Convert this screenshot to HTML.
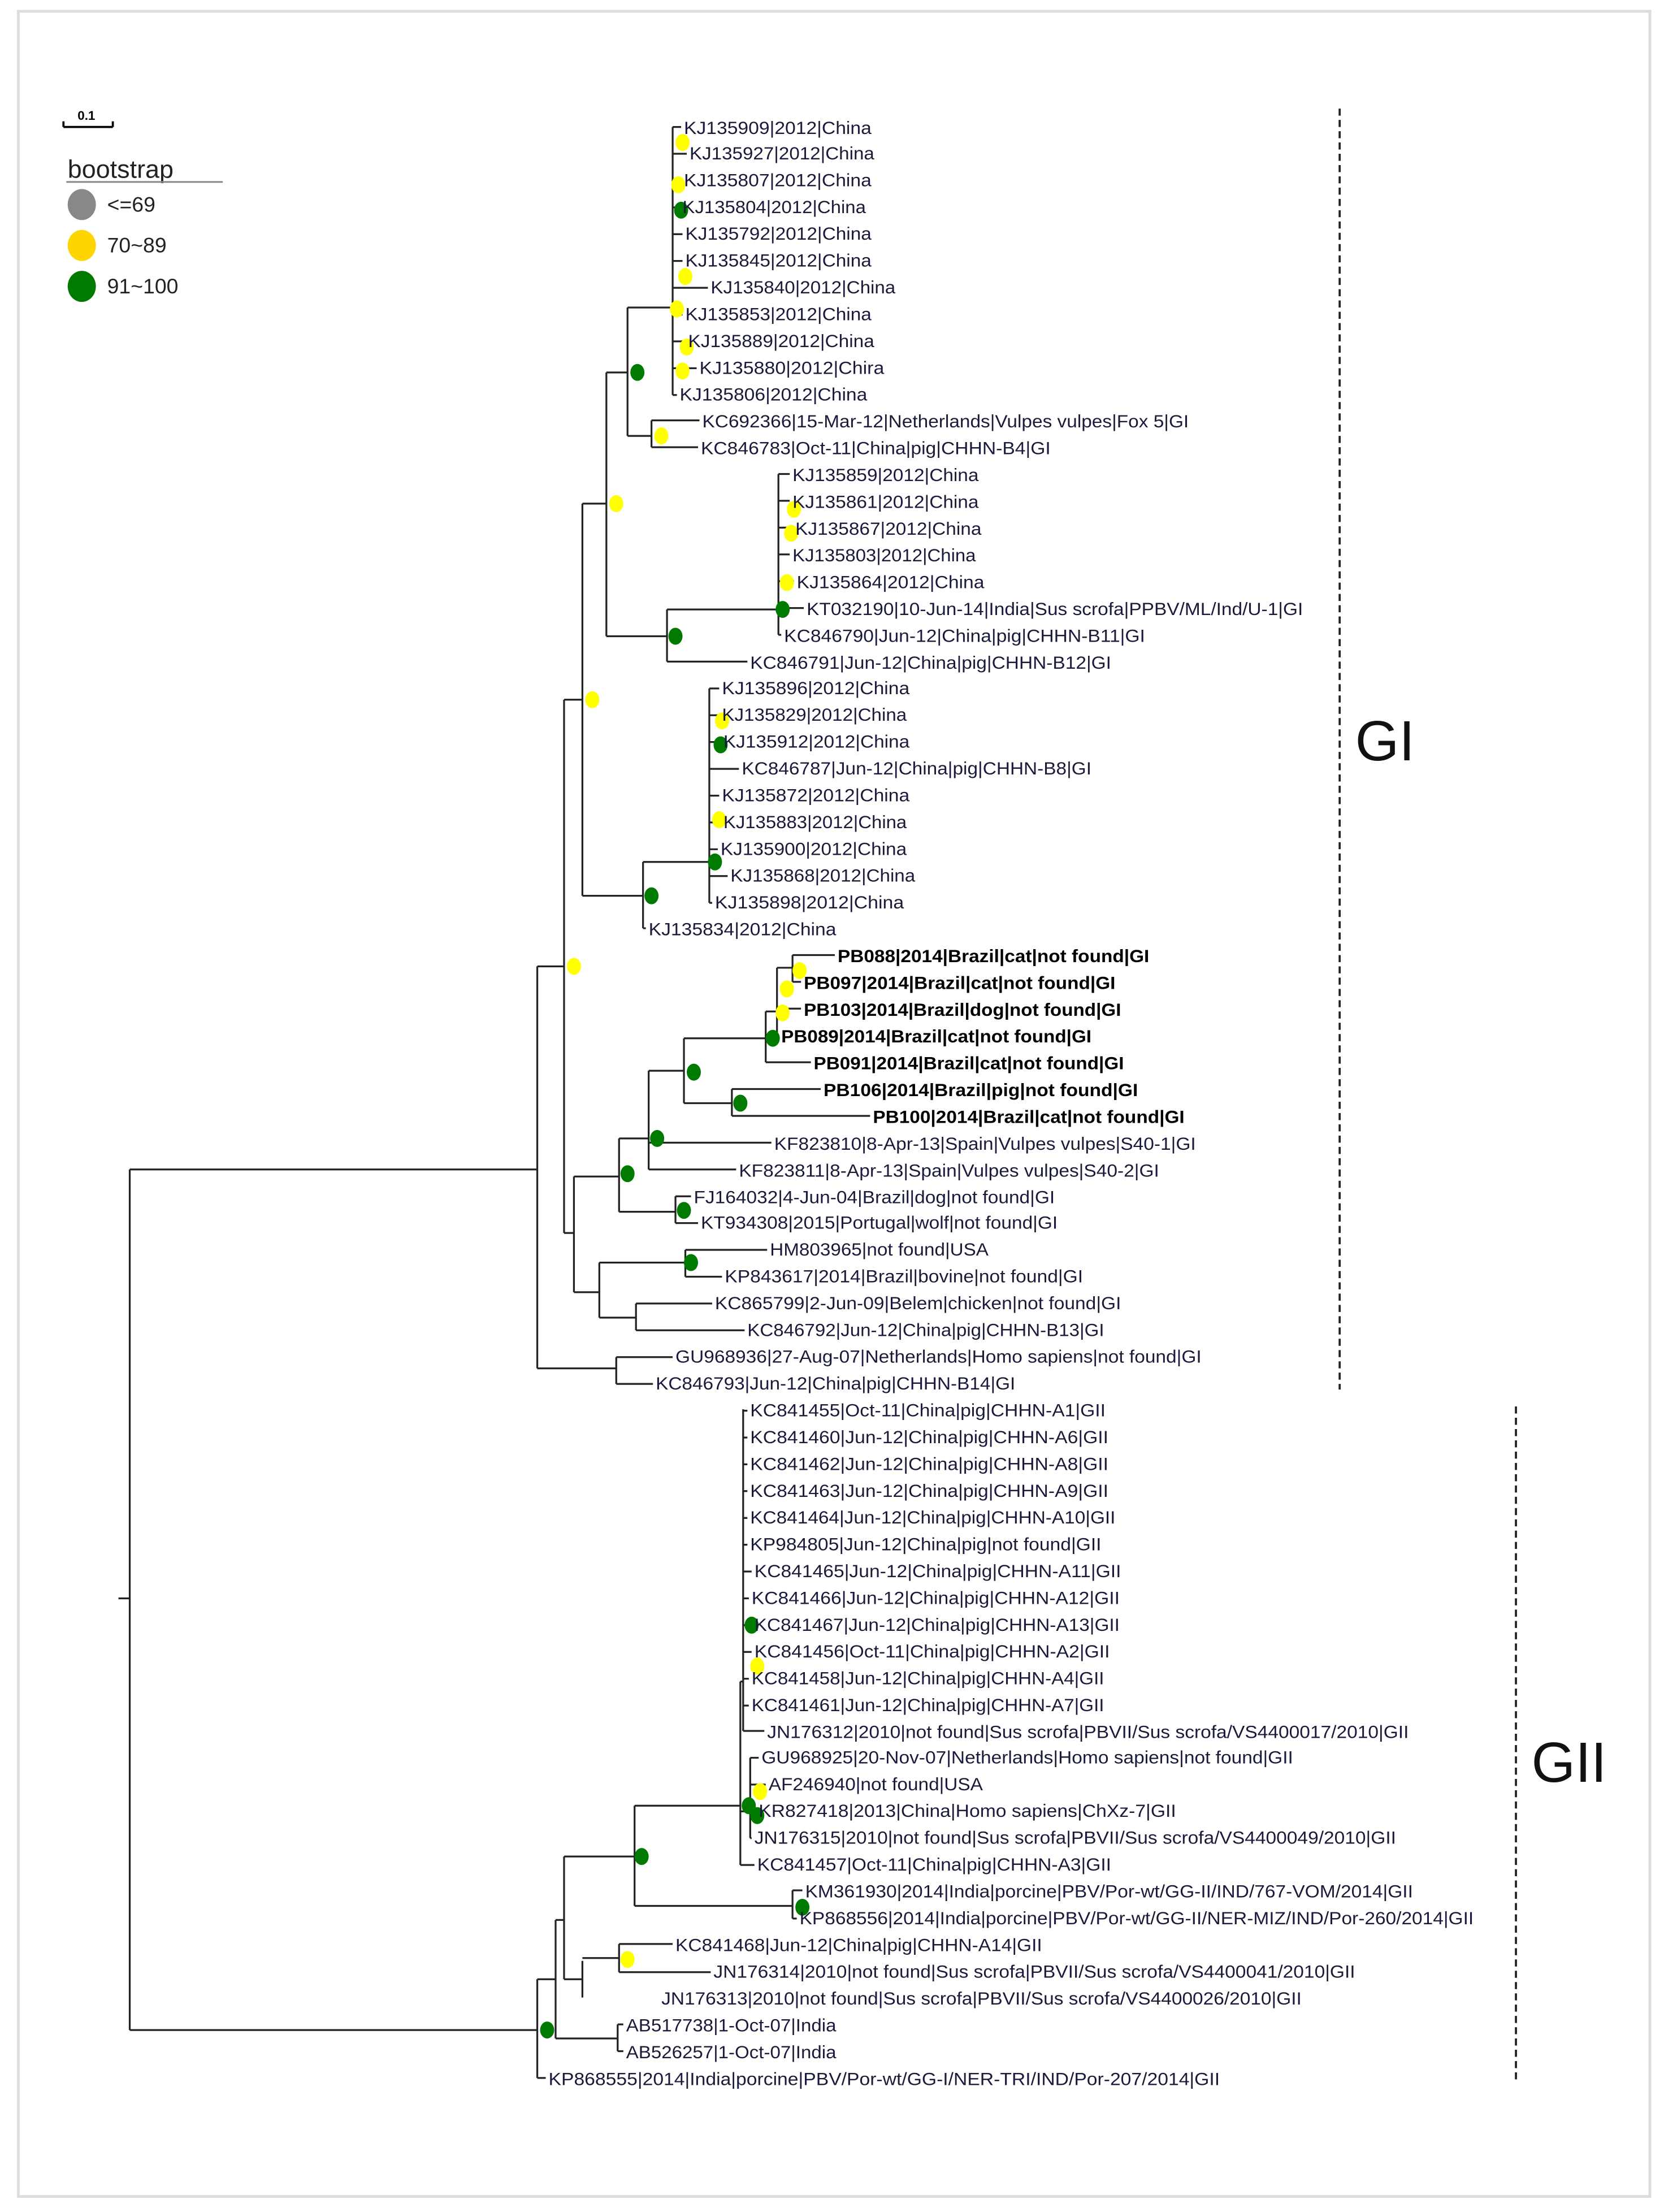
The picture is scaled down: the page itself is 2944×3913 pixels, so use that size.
<!DOCTYPE html>
<html><head><meta charset="utf-8"><style>
html,body{margin:0;padding:0;background:#fff;}
svg{display:block;}
text{font-family:"Liberation Sans",sans-serif;}
.l{font-size:12.5px;fill:#1a1a3a;}
.b{font-size:12.5px;fill:#000;font-weight:bold;}
</style></head><body>
<svg width="2944" height="3913" viewBox="0 0 1180 1568" preserveAspectRatio="none" xmlns="http://www.w3.org/2000/svg">
<rect x="0" y="0" width="1180" height="1568" fill="#fff"/>
<rect x="13" y="8" width="1157" height="1549" fill="none" stroke="#ddd" stroke-width="2"/>
<!-- legend -->
<path d="M45 90H80M45 90V86M80 90V86" stroke="#000" stroke-width="1.5" fill="none"/>
<text x="55" y="85" font-size="9" font-weight="bold">0.1</text>
<text x="48" y="126" font-size="18" fill="#222">bootstrap</text>
<line x1="47" y1="129" x2="158" y2="129" stroke="#888" stroke-width="1.2"/>
<ellipse cx="58" cy="145" rx="10" ry="11" fill="#888"/>
<ellipse cx="58" cy="174" rx="10" ry="11" fill="#ffd500"/>
<ellipse cx="58" cy="203" rx="10" ry="11" fill="#007a00"/>
<text x="76" y="150" font-size="15" fill="#222">&lt;=69</text>
<text x="76" y="179" font-size="15" fill="#222">70~89</text>
<text x="76" y="208" font-size="15" fill="#222">91~100</text>
<!-- tree -->
<path fill="none" stroke="#222" stroke-width="1.3" d="
M477 90H483 M477 109H487 M477 128H483 M477 147H482 M477 166H484 M477 185H484 M477 204H502 M477 223H484 M477 242H486 M477 261H494 M477 280H480 M477 90V280
M445 218H477 M445 218V309 M445 309H462 M462 298V317 M462 298H496 M462 317H495
M430 264H445 M430 264V451 M430 451H473 M473 432V469 M473 469H530 M473 432H552 M552 336V450
M552 336H560 M552 355H560 M552 374H562 M552 393H560 M552 412H563 M552 431H570 M552 450H554
M413 357H430 M413 357V635 M413 635H456 M456 611V658 M456 658H458 M456 611H503 M503 488V640
M503 488H510 M503 507H510 M503 526H511 M503 545H524 M503 564H510 M503 583H511 M503 602H509 M503 621H516 M503 640H505
M400 496H413 M400 496V874 M381 685H400 M400 874H407 M407 834V916 M407 834H439 M439 807V859 M439 807H460 M460 759V829 M460 810H547 M460 829H522 M460 759H485 M485 736V782 M485 782H519 M519 772V791 M519 772H582 M519 791H617 M485 736H543 M543 717V753 M543 753H575 M543 717H551 M551 686V734 M551 715H568 M551 734H552 M551 686H562 M562 677V696 M562 677H592 M562 696H568
M439 859H479 M479 848V867 M479 848H490 M479 867H495
M407 916H425 M425 895V934 M425 895H486 M486 886V905 M486 886H544 M486 905H512 M425 934H451 M451 924V943 M451 924H505 M451 943H528
M381 685V970 M381 970H437 M437 962V981 M437 962H477 M437 981H463
M92 829H381 M92 829V1439 M84 1133H92 M92 1439H381 M381 1403V1473 M381 1473H387 M381 1403H394 M394 1361V1445 M394 1445H438 M438 1435V1454 M438 1435H442 M438 1454H442 M394 1361H400 M400 1316V1403 M400 1403H413 M413 1390V1416 M413 1388H439 M439 1378V1398 M439 1378H477 M439 1398H504 M400 1316H450 M450 1280V1351 M450 1351H562 M562 1340V1360 M562 1340H569 M562 1360H565 M450 1280H525 M525 1192V1322 M525 1322H535 M525 1192H527 M527 999V1227
M527 1000H530 M527 1019H530 M527 1038H530 M527 1057H530 M527 1076H530 M527 1095H530 M527 1114H533 M527 1133H531 M527 1152H533 M527 1171H533 M527 1190H531 M527 1209H531 M527 1227H542
M525 1284H532 M532 1246V1303 M532 1246H538 M532 1265H543 M532 1284H536 M532 1303H533"/>
<!-- dashed group lines -->
<line x1="950" y1="77" x2="950" y2="985" stroke="#222" stroke-width="1.5" stroke-dasharray="5 3"/>
<line x1="1075" y1="997" x2="1075" y2="1477" stroke="#222" stroke-width="1.5" stroke-dasharray="5 3"/>
<text x="961" y="539" font-size="40" fill="#111">GI</text>
<text x="1086" y="1263" font-size="40" fill="#111">GII</text>
<!-- dots -->
<g fill="#ffff00">
<ellipse cx="484" cy="101" rx="5" ry="6"/><ellipse cx="481" cy="131" rx="5" ry="6"/><ellipse cx="486" cy="196" rx="5" ry="6"/><ellipse cx="480" cy="219" rx="5" ry="6"/><ellipse cx="487" cy="246" rx="5" ry="6"/><ellipse cx="484" cy="263" rx="5" ry="6"/><ellipse cx="469" cy="309" rx="5" ry="6"/><ellipse cx="437" cy="357" rx="5" ry="6"/><ellipse cx="420" cy="496" rx="5" ry="6"/><ellipse cx="407" cy="685" rx="5" ry="6"/><ellipse cx="563" cy="361" rx="5" ry="6"/><ellipse cx="561" cy="378" rx="5" ry="6"/><ellipse cx="558" cy="413" rx="5" ry="6"/><ellipse cx="512" cy="511" rx="5" ry="6"/><ellipse cx="510" cy="581" rx="5" ry="6"/><ellipse cx="567" cy="688" rx="5" ry="6"/><ellipse cx="558" cy="701" rx="5" ry="6"/><ellipse cx="555" cy="718" rx="5" ry="6"/><ellipse cx="445" cy="1389" rx="5" ry="6"/><ellipse cx="537" cy="1181" rx="5" ry="6"/><ellipse cx="539" cy="1270" rx="5" ry="6"/>
</g>
<g fill="#007a00">
<ellipse cx="483" cy="149" rx="5" ry="6"/><ellipse cx="452" cy="264" rx="5" ry="6"/><ellipse cx="479" cy="451" rx="5" ry="6"/><ellipse cx="555" cy="432" rx="5" ry="6"/><ellipse cx="511" cy="528" rx="5" ry="6"/><ellipse cx="507" cy="611" rx="5" ry="6"/><ellipse cx="462" cy="635" rx="5" ry="6"/><ellipse cx="548" cy="736" rx="5" ry="6"/><ellipse cx="492" cy="760" rx="5" ry="6"/><ellipse cx="525" cy="782" rx="5" ry="6"/><ellipse cx="466" cy="807" rx="5" ry="6"/><ellipse cx="445" cy="832" rx="5" ry="6"/><ellipse cx="485" cy="858" rx="5" ry="6"/><ellipse cx="490" cy="895" rx="5" ry="6"/><ellipse cx="533" cy="1152" rx="5" ry="6"/><ellipse cx="531" cy="1280" rx="5" ry="6"/><ellipse cx="537" cy="1287" rx="5" ry="6"/><ellipse cx="455" cy="1316" rx="5" ry="6"/><ellipse cx="569" cy="1352" rx="5" ry="6"/><ellipse cx="388" cy="1439" rx="5" ry="6"/>
</g>
<!-- labels -->
<g class="l" lengthAdjust="spacingAndGlyphs">
<text x="485" y="95" textLength="133" lengthAdjust="spacingAndGlyphs">KJ135909|2012|China</text>
<text x="489" y="113" textLength="131" lengthAdjust="spacingAndGlyphs">KJ135927|2012|China</text>
<text x="485" y="132" textLength="133" lengthAdjust="spacingAndGlyphs">KJ135807|2012|China</text>
<text x="484" y="151" textLength="130" lengthAdjust="spacingAndGlyphs">KJ135804|2012|China</text>
<text x="486" y="170" textLength="132" lengthAdjust="spacingAndGlyphs">KJ135792|2012|China</text>
<text x="486" y="189" textLength="132" lengthAdjust="spacingAndGlyphs">KJ135845|2012|China</text>
<text x="504" y="208" textLength="131" lengthAdjust="spacingAndGlyphs">KJ135840|2012|China</text>
<text x="486" y="227" textLength="132" lengthAdjust="spacingAndGlyphs">KJ135853|2012|China</text>
<text x="488" y="246" textLength="132" lengthAdjust="spacingAndGlyphs">KJ135889|2012|China</text>
<text x="496" y="265" textLength="131" lengthAdjust="spacingAndGlyphs">KJ135880|2012|Chira</text>
<text x="482" y="284" textLength="133" lengthAdjust="spacingAndGlyphs">KJ135806|2012|China</text>
<text x="498" y="303" textLength="345" lengthAdjust="spacingAndGlyphs">KC692366|15-Mar-12|Netherlands|Vulpes vulpes|Fox 5|GI</text>
<text x="497" y="322" textLength="248" lengthAdjust="spacingAndGlyphs">KC846783|Oct-11|China|pig|CHHN-B4|GI</text>
<text x="562" y="341" textLength="132" lengthAdjust="spacingAndGlyphs">KJ135859|2012|China</text>
<text x="562" y="360" textLength="132" lengthAdjust="spacingAndGlyphs">KJ135861|2012|China</text>
<text x="564" y="379" textLength="132" lengthAdjust="spacingAndGlyphs">KJ135867|2012|China</text>
<text x="562" y="398" textLength="130" lengthAdjust="spacingAndGlyphs">KJ135803|2012|China</text>
<text x="565" y="417" textLength="133" lengthAdjust="spacingAndGlyphs">KJ135864|2012|China</text>
<text x="572" y="436" textLength="352" lengthAdjust="spacingAndGlyphs">KT032190|10-Jun-14|India|Sus scrofa|PPBV/ML/Ind/U-1|GI</text>
<text x="556" y="455" textLength="256" lengthAdjust="spacingAndGlyphs">KC846790|Jun-12|China|pig|CHHN-B11|GI</text>
<text x="532" y="474" textLength="256" lengthAdjust="spacingAndGlyphs">KC846791|Jun-12|China|pig|CHHN-B12|GI</text>
<text x="512" y="492" textLength="133" lengthAdjust="spacingAndGlyphs">KJ135896|2012|China</text>
<text x="512" y="511" textLength="131" lengthAdjust="spacingAndGlyphs">KJ135829|2012|China</text>
<text x="513" y="530" textLength="132" lengthAdjust="spacingAndGlyphs">KJ135912|2012|China</text>
<text x="526" y="549" textLength="248" lengthAdjust="spacingAndGlyphs">KC846787|Jun-12|China|pig|CHHN-B8|GI</text>
<text x="512" y="568" textLength="133" lengthAdjust="spacingAndGlyphs">KJ135872|2012|China</text>
<text x="513" y="587" textLength="130" lengthAdjust="spacingAndGlyphs">KJ135883|2012|China</text>
<text x="511" y="606" textLength="132" lengthAdjust="spacingAndGlyphs">KJ135900|2012|China</text>
<text x="518" y="625" textLength="131" lengthAdjust="spacingAndGlyphs">KJ135868|2012|China</text>
<text x="507" y="644" textLength="134" lengthAdjust="spacingAndGlyphs">KJ135898|2012|China</text>
<text x="460" y="663" textLength="133" lengthAdjust="spacingAndGlyphs">KJ135834|2012|China</text>
<text x="839" y="1" class="l"> </text>
</g>
<g class="b">
<text x="594" y="682" textLength="221" lengthAdjust="spacingAndGlyphs">PB088|2014|Brazil|cat|not found|GI</text>
<text x="570" y="701" textLength="221" lengthAdjust="spacingAndGlyphs">PB097|2014|Brazil|cat|not found|GI</text>
<text x="570" y="720" textLength="225" lengthAdjust="spacingAndGlyphs">PB103|2014|Brazil|dog|not found|GI</text>
<text x="554" y="739" textLength="220" lengthAdjust="spacingAndGlyphs">PB089|2014|Brazil|cat|not found|GI</text>
<text x="577" y="758" textLength="220" lengthAdjust="spacingAndGlyphs">PB091|2014|Brazil|cat|not found|GI</text>
<text x="584" y="777" textLength="223" lengthAdjust="spacingAndGlyphs">PB106|2014|Brazil|pig|not found|GI</text>
<text x="619" y="796" textLength="221" lengthAdjust="spacingAndGlyphs">PB100|2014|Brazil|cat|not found|GI</text>
</g>
<g class="l">
<text x="549" y="815" textLength="299" lengthAdjust="spacingAndGlyphs">KF823810|8-Apr-13|Spain|Vulpes vulpes|S40-1|GI</text>
<text x="524" y="834" textLength="298" lengthAdjust="spacingAndGlyphs">KF823811|8-Apr-13|Spain|Vulpes vulpes|S40-2|GI</text>
<text x="492" y="853" textLength="256" lengthAdjust="spacingAndGlyphs">FJ164032|4-Jun-04|Brazil|dog|not found|GI</text>
<text x="497" y="871" textLength="253" lengthAdjust="spacingAndGlyphs">KT934308|2015|Portugal|wolf|not found|GI</text>
<text x="546" y="890" textLength="155" lengthAdjust="spacingAndGlyphs">HM803965|not found|USA</text>
<text x="514" y="909" textLength="254" lengthAdjust="spacingAndGlyphs">KP843617|2014|Brazil|bovine|not found|GI</text>
<text x="507" y="928" textLength="288" lengthAdjust="spacingAndGlyphs">KC865799|2-Jun-09|Belem|chicken|not found|GI</text>
<text x="530" y="947" textLength="253" lengthAdjust="spacingAndGlyphs">KC846792|Jun-12|China|pig|CHHN-B13|GI</text>
<text x="479" y="966" textLength="373" lengthAdjust="spacingAndGlyphs">GU968936|27-Aug-07|Netherlands|Homo sapiens|not found|GI</text>
<text x="465" y="985" textLength="255" lengthAdjust="spacingAndGlyphs">KC846793|Jun-12|China|pig|CHHN-B14|GI</text>
<text x="532" y="1004" textLength="252" lengthAdjust="spacingAndGlyphs">KC841455|Oct-11|China|pig|CHHN-A1|GII</text>
<text x="532" y="1023" textLength="254" lengthAdjust="spacingAndGlyphs">KC841460|Jun-12|China|pig|CHHN-A6|GII</text>
<text x="532" y="1042" textLength="254" lengthAdjust="spacingAndGlyphs">KC841462|Jun-12|China|pig|CHHN-A8|GII</text>
<text x="532" y="1061" textLength="254" lengthAdjust="spacingAndGlyphs">KC841463|Jun-12|China|pig|CHHN-A9|GII</text>
<text x="532" y="1080" textLength="259" lengthAdjust="spacingAndGlyphs">KC841464|Jun-12|China|pig|CHHN-A10|GII</text>
<text x="532" y="1099" textLength="249" lengthAdjust="spacingAndGlyphs">KP984805|Jun-12|China|pig|not found|GII</text>
<text x="535" y="1118" textLength="260" lengthAdjust="spacingAndGlyphs">KC841465|Jun-12|China|pig|CHHN-A11|GII</text>
<text x="533" y="1137" textLength="261" lengthAdjust="spacingAndGlyphs">KC841466|Jun-12|China|pig|CHHN-A12|GII</text>
<text x="535" y="1156" textLength="259" lengthAdjust="spacingAndGlyphs">KC841467|Jun-12|China|pig|CHHN-A13|GII</text>
<text x="535" y="1175" textLength="252" lengthAdjust="spacingAndGlyphs">KC841456|Oct-11|China|pig|CHHN-A2|GII</text>
<text x="533" y="1194" textLength="250" lengthAdjust="spacingAndGlyphs">KC841458|Jun-12|China|pig|CHHN-A4|GII</text>
<text x="533" y="1213" textLength="250" lengthAdjust="spacingAndGlyphs">KC841461|Jun-12|China|pig|CHHN-A7|GII</text>
<text x="544" y="1232" textLength="455" lengthAdjust="spacingAndGlyphs">JN176312|2010|not found|Sus scrofa|PBVII/Sus scrofa/VS4400017/2010|GII</text>
<text x="540" y="1250" textLength="377" lengthAdjust="spacingAndGlyphs">GU968925|20-Nov-07|Netherlands|Homo sapiens|not found|GII</text>
<text x="545" y="1269" textLength="152" lengthAdjust="spacingAndGlyphs">AF246940|not found|USA</text>
<text x="538" y="1288" textLength="296" lengthAdjust="spacingAndGlyphs">KR827418|2013|China|Homo sapiens|ChXz-7|GII</text>
<text x="535" y="1307" textLength="455" lengthAdjust="spacingAndGlyphs">JN176315|2010|not found|Sus scrofa|PBVII/Sus scrofa/VS4400049/2010|GII</text>
<text x="537" y="1326" textLength="251" lengthAdjust="spacingAndGlyphs">KC841457|Oct-11|China|pig|CHHN-A3|GII</text>
<text x="571" y="1345" textLength="431" lengthAdjust="spacingAndGlyphs">KM361930|2014|India|porcine|PBV/Por-wt/GG-II/IND/767-VOM/2014|GII</text>
<text x="567" y="1364" textLength="478" lengthAdjust="spacingAndGlyphs">KP868556|2014|India|porcine|PBV/Por-wt/GG-II/NER-MIZ/IND/Por-260/2014|GII</text>
<text x="479" y="1383" textLength="260" lengthAdjust="spacingAndGlyphs">KC841468|Jun-12|China|pig|CHHN-A14|GII</text>
<text x="506" y="1402" textLength="455" lengthAdjust="spacingAndGlyphs">JN176314|2010|not found|Sus scrofa|PBVII/Sus scrofa/VS4400041/2010|GII</text>
<text x="469" y="1421" textLength="454" lengthAdjust="spacingAndGlyphs">JN176313|2010|not found|Sus scrofa|PBVII/Sus scrofa/VS4400026/2010|GII</text>
<text x="444" y="1440" textLength="149" lengthAdjust="spacingAndGlyphs">AB517738|1-Oct-07|India</text>
<text x="444" y="1459" textLength="149" lengthAdjust="spacingAndGlyphs">AB526257|1-Oct-07|India</text>
<text x="389" y="1478" textLength="476" lengthAdjust="spacingAndGlyphs">KP868555|2014|India|porcine|PBV/Por-wt/GG-I/NER-TRI/IND/Por-207/2014|GII</text>
</g>
</svg>
</body></html>
